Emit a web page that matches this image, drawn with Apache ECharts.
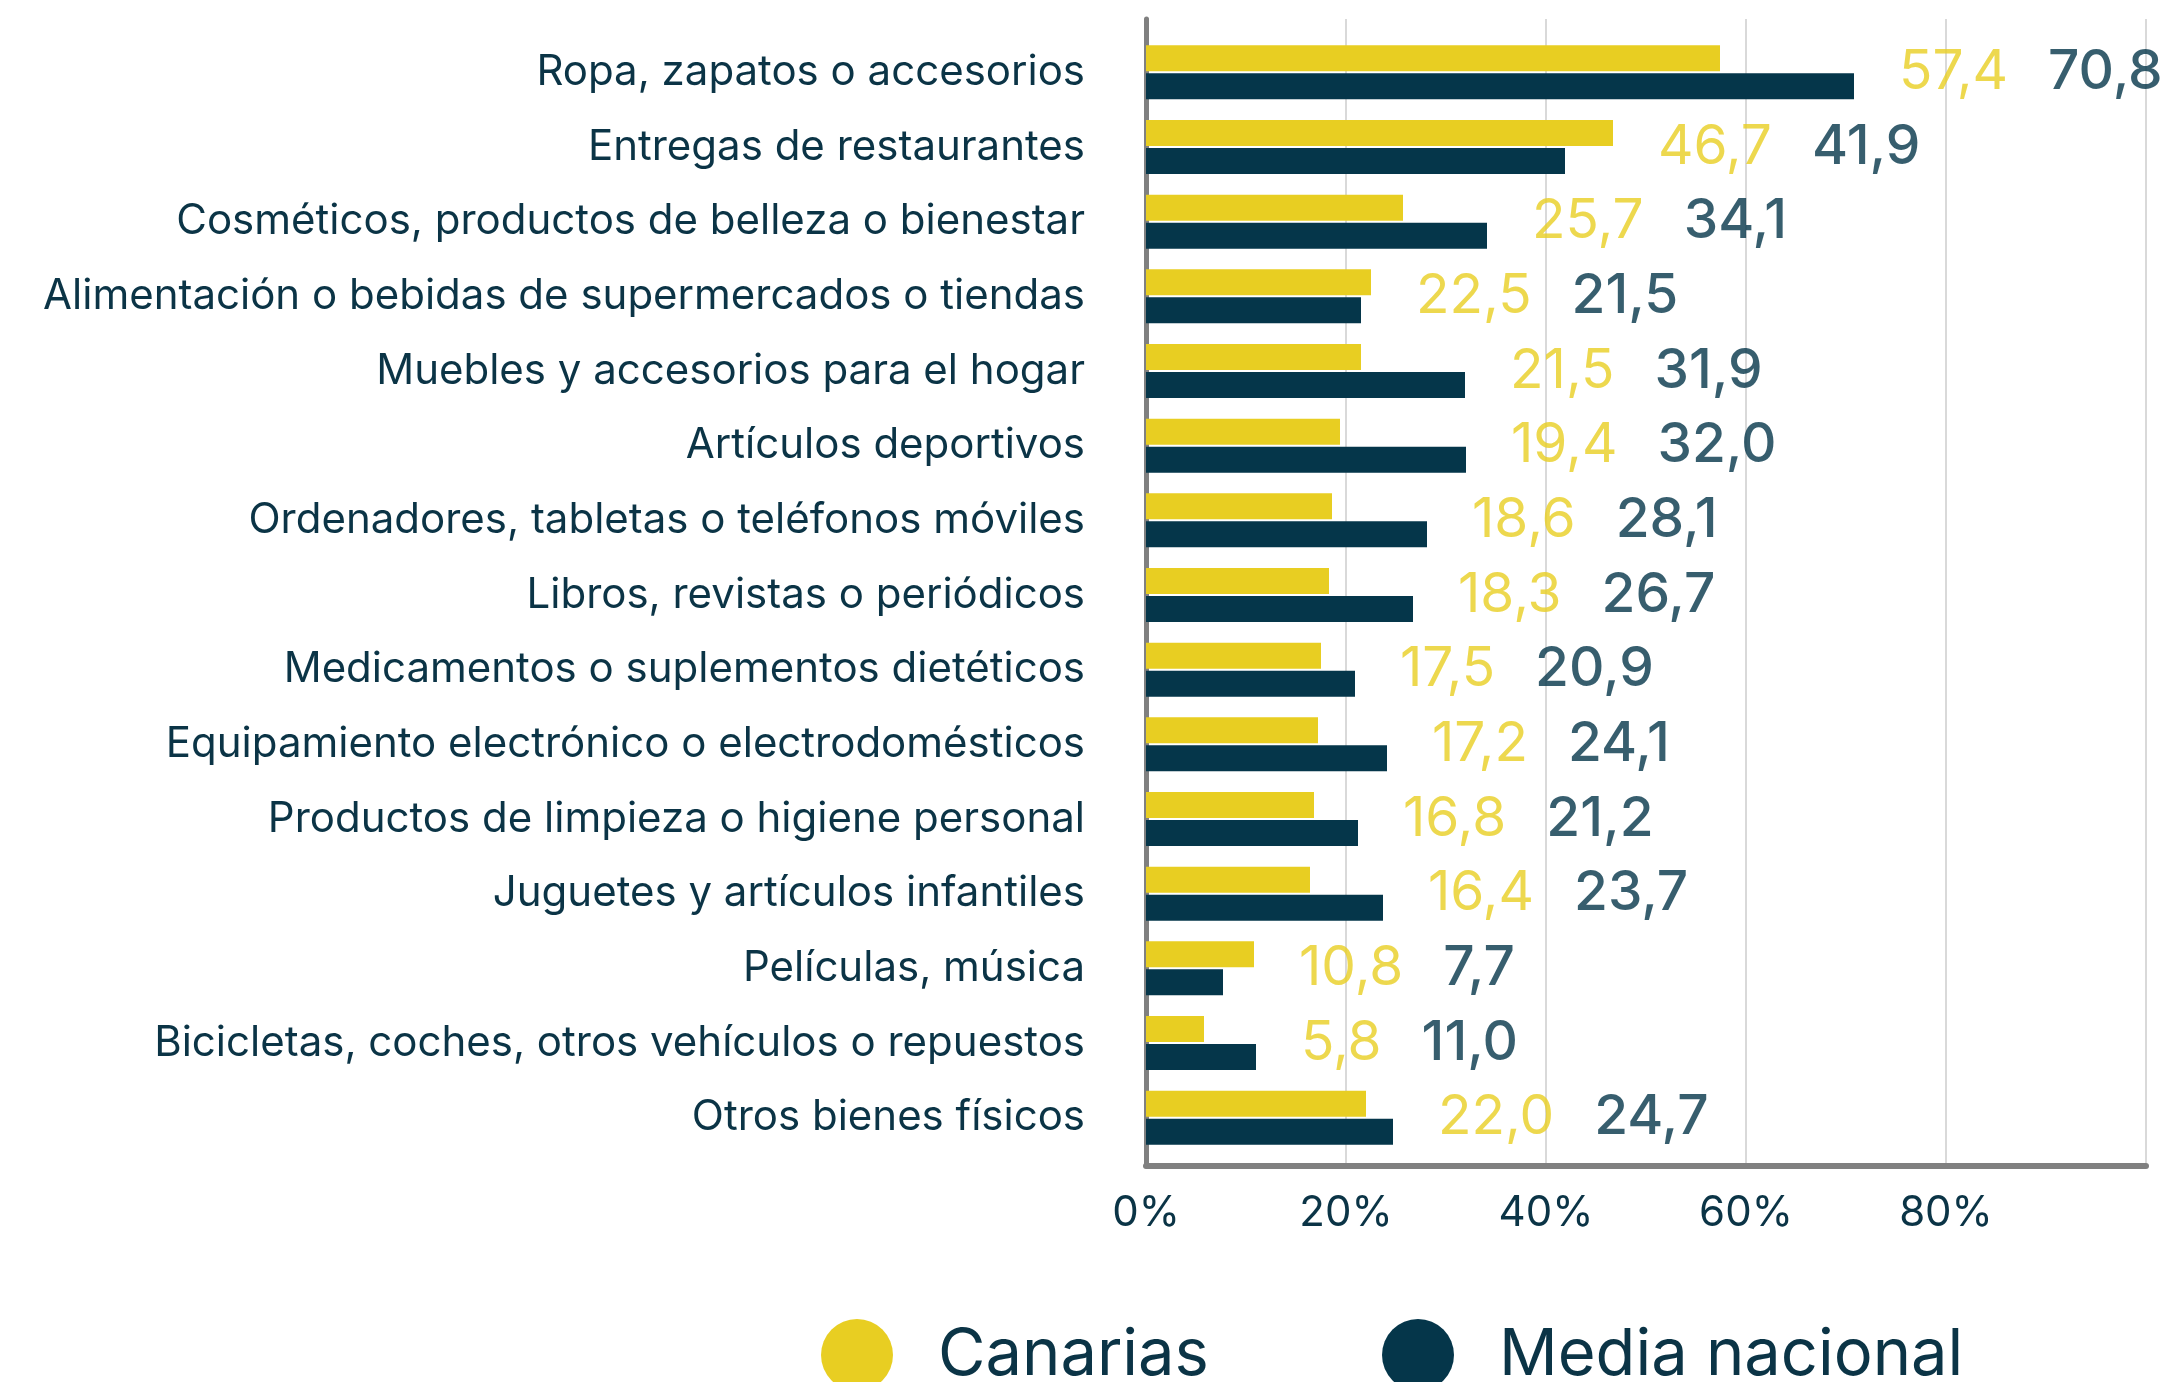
<!DOCTYPE html>
<html style="height: 100%">
<head>
    <meta charset="utf-8">
    <title>Compras online por tipo de producto</title>
    <script src="https://cdn.jsdelivr.net/npm/echarts@6/dist/echarts.min.js"></script>
    <style>
        html, body { margin: 0; padding: 0; background: #ffffff; }
        #container { width: 2172px; height: 1382px; }
    </style>
</head>
<body>
<div id="container"></div>
<script>
    // categorias (de arriba a abajo)
    var categories = [
        'Ropa, zapatos o accesorios',
        'Entregas de restaurantes',
        'Cosméticos, productos de belleza o bienestar',
        'Alimentación o bebidas de supermercados o tiendas',
        'Muebles y accesorios para el hogar',
        'Artículos deportivos',
        'Ordenadores, tabletas o teléfonos móviles',
        'Libros, revistas o periódicos',
        'Medicamentos o suplementos dietéticos',
        'Equipamiento electrónico o electrodomésticos',
        'Productos de limpieza o higiene personal',
        'Juguetes y artículos infantiles',
        'Películas, música',
        'Bicicletas, coches, otros vehículos o repuestos',
        'Otros bienes físicos'
    ];
    var canarias = [57.4, 46.7, 25.7, 22.5, 21.5, 19.4, 18.6, 18.3, 17.5, 17.2, 16.8, 16.4, 10.8, 5.8, 22.0];
    var nacional = [70.8, 41.9, 34.1, 21.5, 31.9, 32.0, 28.1, 26.7, 20.9, 24.1, 21.2, 23.7, 7.7, 11.0, 24.7];
    var xTicks = [0, 20, 40, 60, 80, 100];
    var seriesNames = ['Canarias', 'Media nacional'];

    var YELLOW = '#e8ce22';
    var NAVY = '#05364a';
    var TEXT = '#0b3446';
    var FONT = 'Inter, "Noto Sans", sans-serif';

    function fmt(v) {
        return v.toFixed(1).replace('.', ',');
    }

    // punto invisible al final de la barra mas larga para colocar las dos etiquetas
    var labelPoints = categories.map(function (c, i) {
        return [Math.max(canarias[i], nacional[i]), c, canarias[i], nacional[i]];
    });

    var myChart = echarts.init(document.getElementById('container'));
    var option = {
        animation: false,
        backgroundColor: '#ffffff',
        textStyle: { fontFamily: FONT },
        legend: [
            {
                data: [seriesNames[0]],
                left: 816, top: 1314,
                icon: 'circle', itemWidth: 72, itemHeight: 72,
                textStyle: { fontSize: 65, color: TEXT, fontFamily: FONT, padding: [0, 0, 0, 40] }
            },
            {
                data: [seriesNames[1]],
                left: 1377, top: 1314,
                icon: 'circle', itemWidth: 72, itemHeight: 72,
                textStyle: { fontSize: 65, color: TEXT, fontFamily: FONT, padding: [0, 0, 0, 40] }
            }
        ],
        grid: [
            // marco: ejes y lineas de division
            { left: 1146, right: 26, top: 19, bottom: 216 },
            // barras
            { left: 1146, right: 26, top: 35, bottom: 227 }
        ],
        xAxis: [
            {
                gridIndex: 0, type: 'value', min: xTicks[0], max: xTicks[xTicks.length - 1], interval: 20,
                axisLine: { show: true, lineStyle: { color: '#808080', width: 6 } },
                axisTick: { show: false },
                splitLine: { show: true, lineStyle: { color: '#d9d9d9', width: 2 } },
                axisLabel: {
                    fontSize: 42, color: TEXT, fontFamily: FONT, margin: 26,
                    formatter: function (v) { return v === 100 ? '' : v + '%'; }
                }
            },
            {
                gridIndex: 1, type: 'value', min: xTicks[0], max: xTicks[xTicks.length - 1], show: false
            }
        ],
        yAxis: [
            {
                gridIndex: 0, type: 'value', min: 0, max: 1,
                axisLine: { show: true, lineStyle: { color: '#808080', width: 5 } },
                axisTick: { show: false }, axisLabel: { show: false }, splitLine: { show: false }
            },
            {
                gridIndex: 1, type: 'category', data: categories, inverse: true,
                axisLine: { show: false }, axisTick: { show: false }, splitLine: { show: false },
                axisLabel: { fontSize: 42, color: TEXT, fontFamily: FONT, margin: 61 }
            }
        ],
        series: [
            {
                name: seriesNames[0], type: 'bar', xAxisIndex: 1, yAxisIndex: 1,
                data: canarias, barWidth: 26, barGap: '8%',
                itemStyle: { color: YELLOW }
            },
            {
                name: seriesNames[1], type: 'bar', xAxisIndex: 1, yAxisIndex: 1,
                data: nacional, barWidth: 26, barGap: '8%',
                itemStyle: { color: NAVY }
            },
            {
                name: 'etiquetas', type: 'scatter', xAxisIndex: 1, yAxisIndex: 1,
                data: labelPoints, symbolSize: 0, silent: true,
                label: {
                    show: true, position: 'right', distance: 45,
                    formatter: function (p) {
                        return '{a|' + fmt(p.data[2]) + '}{b|' + fmt(p.data[3]) + '}';
                    },
                    rich: {
                        a: { fontSize: 55, color: YELLOW, fontFamily: FONT, padding: [0, 40, 0, 0] },
                        b: { fontSize: 55, color: NAVY, fontFamily: FONT, fontWeight: 500 }
                    }
                }
            }
        ]
    };
    myChart.setOption(option);
</script>
</body>
</html>
